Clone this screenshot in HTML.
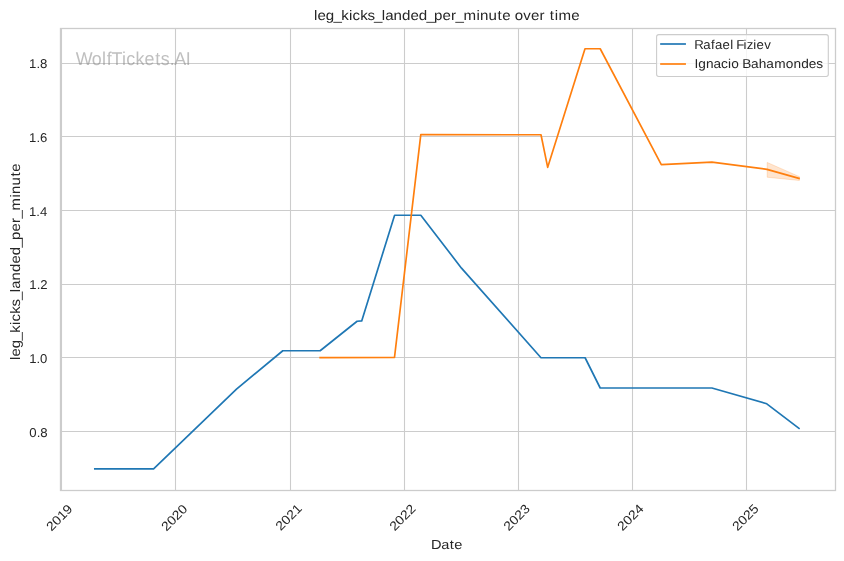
<!DOCTYPE html>
<html><head><meta charset="utf-8"><title>leg_kicks_landed_per_minute over time</title>
<style>
html,body{margin:0;padding:0;background:#fff;}
body{width:844px;height:561px;overflow:hidden;}
svg{display:block;font-family:"Liberation Sans", sans-serif;will-change:transform;}
svg text{text-rendering:geometricPrecision;}
</style></head>
<body>
<svg width="844" height="561" viewBox="0 0 844 561">
<rect x="0" y="0" width="844" height="561" fill="#ffffff"/>
<line x1="60.5" x2="835.5" y1="431.5" y2="431.5" stroke="#cccccc" stroke-width="1.1"/>
<line x1="60.5" x2="835.5" y1="357.5" y2="357.5" stroke="#cccccc" stroke-width="1.1"/>
<line x1="60.5" x2="835.5" y1="284.5" y2="284.5" stroke="#cccccc" stroke-width="1.1"/>
<line x1="60.5" x2="835.5" y1="210.5" y2="210.5" stroke="#cccccc" stroke-width="1.1"/>
<line x1="60.5" x2="835.5" y1="136.5" y2="136.5" stroke="#cccccc" stroke-width="1.1"/>
<line x1="60.5" x2="835.5" y1="63.5" y2="63.5" stroke="#cccccc" stroke-width="1.1"/>
<line x1="61.5" x2="61.5" y1="28.5" y2="490.5" stroke="#cccccc" stroke-width="1.1"/>
<line x1="175.5" x2="175.5" y1="28.5" y2="490.5" stroke="#cccccc" stroke-width="1.1"/>
<line x1="290.5" x2="290.5" y1="28.5" y2="490.5" stroke="#cccccc" stroke-width="1.1"/>
<line x1="404.5" x2="404.5" y1="28.5" y2="490.5" stroke="#cccccc" stroke-width="1.1"/>
<line x1="518.5" x2="518.5" y1="28.5" y2="490.5" stroke="#cccccc" stroke-width="1.1"/>
<line x1="632.5" x2="632.5" y1="28.5" y2="490.5" stroke="#cccccc" stroke-width="1.1"/>
<line x1="746.5" x2="746.5" y1="28.5" y2="490.5" stroke="#cccccc" stroke-width="1.1"/>
<polygon points="767.20,162.45 799.40,176.65 799.40,180.45 767.20,177.25" fill="#ff7f0e" fill-opacity="0.2" stroke="#ff7f0e" stroke-opacity="0.2" stroke-width="1.0" stroke-linejoin="round"/>
<polyline points="94.80,468.85 153.60,468.85 236.50,389.05 282.80,350.75 320.15,350.75 357.10,321.25 361.70,320.95 394.60,215.25 420.80,215.25 461.50,268.15 541.00,357.75 585.10,357.75 600.20,388.00 711.90,388.00 766.80,403.80 799.00,428.30" fill="none" stroke="#1f77b4" stroke-width="1.68" stroke-linejoin="round" stroke-linecap="square"/>
<polyline points="320.15,357.55 394.50,357.45 420.80,134.65 541.00,134.75 547.70,167.35 585.00,48.75 600.20,48.75 661.30,164.65 711.90,162.05 767.00,169.35 799.00,178.45" fill="none" stroke="#ff7f0e" stroke-width="1.68" stroke-linejoin="round" stroke-linecap="square"/>
<rect x="60.5" y="28.5" width="775.0" height="462.0" fill="none" stroke="#cccccc" stroke-width="1.3"/>
<text transform="translate(76.50,65.00) scale(0.9613,1)" x="-0.82 15.94 26.62 31.49 36.42 47.41 51.89 61.26 70.68 81.87 87.63 96.88 101.80 113.76" y="0" font-size="18.6" fill="#808080" fill-opacity="0.5">WolfTickets.AI</text>
<rect x="656.6" y="34.6" width="171.7" height="41.9" rx="2.2" ry="2.2" fill="#ffffff" fill-opacity="0.8" stroke="#cccccc" stroke-width="1.1"/>
<line x1="661.0" x2="685.1" y1="44.0" y2="44.0" stroke="#1f77b4" stroke-width="1.68" stroke-linecap="square"/>
<line x1="661.0" x2="685.1" y1="64.0" y2="64.0" stroke="#ff7f0e" stroke-width="1.68" stroke-linecap="square"/>
<text transform="translate(694.90,49.00) scale(1.0244,1)" x="-0.63 8.13 15.72 19.72 27.04 34.50 37.68 40.42 47.56 50.53 57.08 60.23 67.80" y="0" font-size="12.9" fill="#262626">Rafael Fiziev</text>
<text transform="translate(694.50,68.00) scale(1.0592,1)" x="-0.08 3.49 10.81 18.01 25.10 31.67 34.65 41.81 45.15 53.41 60.61 67.81 75.23 86.22 93.42 100.74 107.94 114.91" y="0" font-size="12.9" fill="#262626">Ignacio Bahamondes</text>
<text transform="translate(313.75,20.00) scale(1.0934,1)" x="0.18 3.37 11.02 18.00 25.07 32.31 35.48 42.45 49.20 55.04 62.15 65.33 72.99 80.76 88.42 96.08 103.06 110.03 117.69 125.58 129.70 136.87 148.81 152.10 159.88 168.14 172.45 180.09 183.89 191.65 198.63 206.52 211.42 215.82 220.37 223.88 235.56" y="0" font-size="13.8" fill="#262626">leg_kicks_landed_per_minute over time</text>
<text transform="translate(29.39,437.00) scale(1.0301,1)" x="-0.02 7.06 10.64" y="0" font-size="12.8" fill="#262626">0.8</text>
<text transform="translate(29.17,363.00) scale(1.0235,1)" x="-0.00 7.12 10.68" y="0" font-size="12.8" fill="#262626">1.0</text>
<text transform="translate(29.36,289.00) scale(1.0235,1)" x="-0.00 7.12 10.68" y="0" font-size="12.8" fill="#262626">1.2</text>
<text transform="translate(29.09,216.00) scale(1.0235,1)" x="-0.00 7.12 10.68" y="0" font-size="12.8" fill="#262626">1.4</text>
<text transform="translate(29.12,142.00) scale(1.0235,1)" x="-0.00 7.12 10.68" y="0" font-size="12.8" fill="#262626">1.6</text>
<text transform="translate(29.12,68.00) scale(1.0301,1)" x="-0.02 7.06 10.64" y="0" font-size="12.8" fill="#262626">1.8</text>
<text transform="translate(51.42,531.64) rotate(-45) scale(1.0887,1)" x="0.00 7.12 14.24 21.36" y="0" font-size="12.8" fill="#262626">2019</text>
<text transform="translate(166.41,531.65) rotate(-45) scale(1.0887,1)" x="0.00 7.12 14.24 21.36" y="0" font-size="12.8" fill="#262626">2020</text>
<text transform="translate(280.71,531.15) rotate(-45) scale(1.0887,1)" x="0.00 7.12 14.24 21.36" y="0" font-size="12.8" fill="#262626">2021</text>
<text transform="translate(394.65,531.51) rotate(-45) scale(1.0887,1)" x="0.00 7.12 14.24 21.36" y="0" font-size="12.8" fill="#262626">2022</text>
<text transform="translate(508.82,531.50) rotate(-45) scale(1.0887,1)" x="0.00 7.12 14.24 21.36" y="0" font-size="12.8" fill="#262626">2023</text>
<text transform="translate(622.46,531.51) rotate(-45) scale(1.0887,1)" x="0.00 7.12 14.24 21.36" y="0" font-size="12.8" fill="#262626">2024</text>
<text transform="translate(737.57,531.50) rotate(-45) scale(1.0931,1)" x="-0.01 7.08 14.17 21.31" y="0" font-size="12.8" fill="#262626">2025</text>
<text transform="translate(431.40,549.00) scale(1.1061,1)" x="-0.32 8.81 16.56 20.63" y="0" font-size="13.2" fill="#262626">Date</text>
<text transform="translate(20.00,360.25) rotate(-90) scale(1.0783,1)" x="0.21 3.47 11.23 18.30 25.47 32.78 36.02 43.10 49.94 55.87 63.04 66.30 74.07 81.95 89.72 97.48 104.56 111.63 119.39 127.37 131.57 138.87 150.91 154.29 162.17 170.53 174.92" y="0" font-size="13.8" fill="#262626">leg_kicks_landed_per_minute</text>
</svg>
</body></html>
